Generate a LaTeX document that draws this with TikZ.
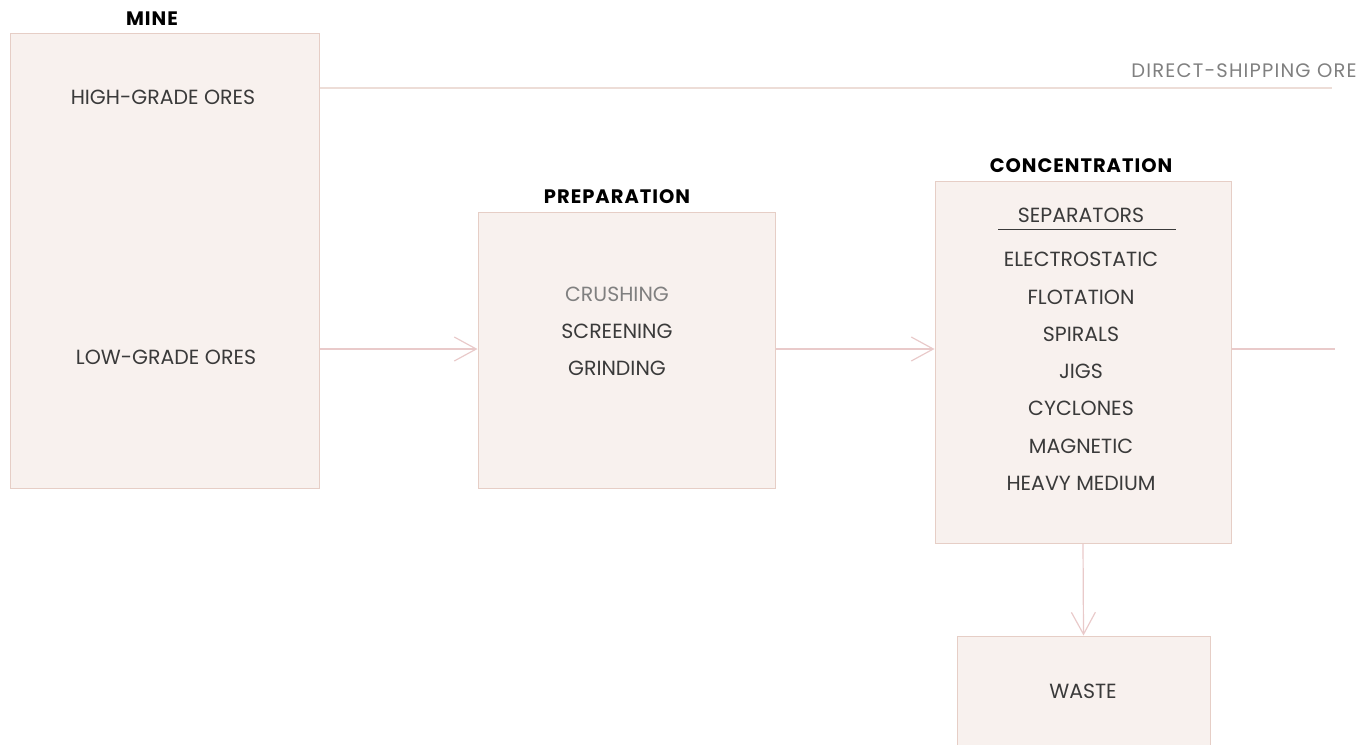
\documentclass[tikz,border=0pt]{standalone}
\usepackage{fontspec}
\setmainfont{Poppins}
\usetikzlibrary{arrows.meta}
\definecolor{boxfill}{HTML}{F8F1EE}
\definecolor{boxedge}{HTML}{E6CEC6}
\definecolor{flow}{HTML}{E9CACA}
\definecolor{txt}{HTML}{3A3A3A}
\begin{document}
\begin{tikzpicture}[x=1pt,y=-1pt,
  stagebox/.style={draw=boxedge,fill=boxfill,line width=1pt,inner sep=0pt},
  item/.style={text=txt,font=\fontsize{20.5}{24}\selectfont,inner sep=0pt},
  head/.style={text=black,font=\bfseries\fontsize{19.5}{22}\selectfont\addfontfeature{LetterSpace=5},inner sep=0pt},
  flowline/.style={draw=flow,line width=1.2pt},
  flowarrow/.style={flowline,-{Straight Barb[length=22pt,width=24pt,line width=1.2pt]}}]
\useasboundingbox (0,0) rectangle (1359,744);
% boxes
\node[stagebox,minimum width=309pt,minimum height=455pt] (mine) at (164.5,260.5) {};
\node[stagebox,minimum width=297pt,minimum height=276pt] (prep) at (626.5,350) {};
\node[stagebox,minimum width=296pt,minimum height=362pt] (conc) at (1083,362) {};
\node[stagebox,minimum width=253pt,minimum height=120pt] (waste) at (1083.5,696) {};
% headings
\node[head] (hmine) at (152,19) {MINE};
\node[head] (hprep) at (617,197) {PREPARATION};
\node[head] (hconc) at (1081,166) {CONCENTRATION};
% mine texts
\node[item] (high) at (163,97) {HIGH-GRADE ORES};
\node[item] (low) at (166,357) {LOW-GRADE ORES};
% preparation texts
\node[item,text=gray] (crush) at (617,294) {CRUSHING};
\node[item] (screen) at (617,331) {SCREENING};
\node[item] (grind) at (617,368) {GRINDING};
% concentration texts
\node[item] (sep) at (1081,215) {SEPARATORS};
\coordinate (ul1) at (998,229);
\coordinate (ul2) at (1176,229);
\draw[txt,line width=1pt] (ul1) -- (ul2);
\node[item] (elec) at (1081,259) {ELECTROSTATIC};
\node[item] (flot) at (1081,297) {FLOTATION};
\node[item] (spir) at (1081,334) {SPIRALS};
\node[item] (jigs) at (1081,371) {JIGS};
\node[item] (cycl) at (1081,408) {CYCLONES};
\node[item] (magn) at (1081,446) {MAGNETIC};
\node[item] (heavy) at (1081,483) {HEAVY MEDIUM};
\node[item] (wastetxt) at (1083,691) {WASTE};
\node[item,text=gray,font=\fontsize{19.5}{24}\selectfont\addfontfeature{LetterSpace=6}] (direct) at (1244,71) {DIRECT-SHIPPING ORE};
% connectors
\coordinate (dsend) at (1332,88);
\draw[flowline,draw=boxedge!70] (mine.east |- 0,88) -- (dsend);
\draw[flowarrow] (mine.east |- 0,349) -- (prep.west |- 0,349);
\draw[flowarrow] (prep.east |- 0,349) -- (conc.west |- 0,349);
\coordinate (outend) at (1335,349);
\draw[flowline] (conc.east |- 0,349) -- (outend);
\draw[flowarrow] (conc.south) -- (waste.north);
\end{tikzpicture}
\end{document}
